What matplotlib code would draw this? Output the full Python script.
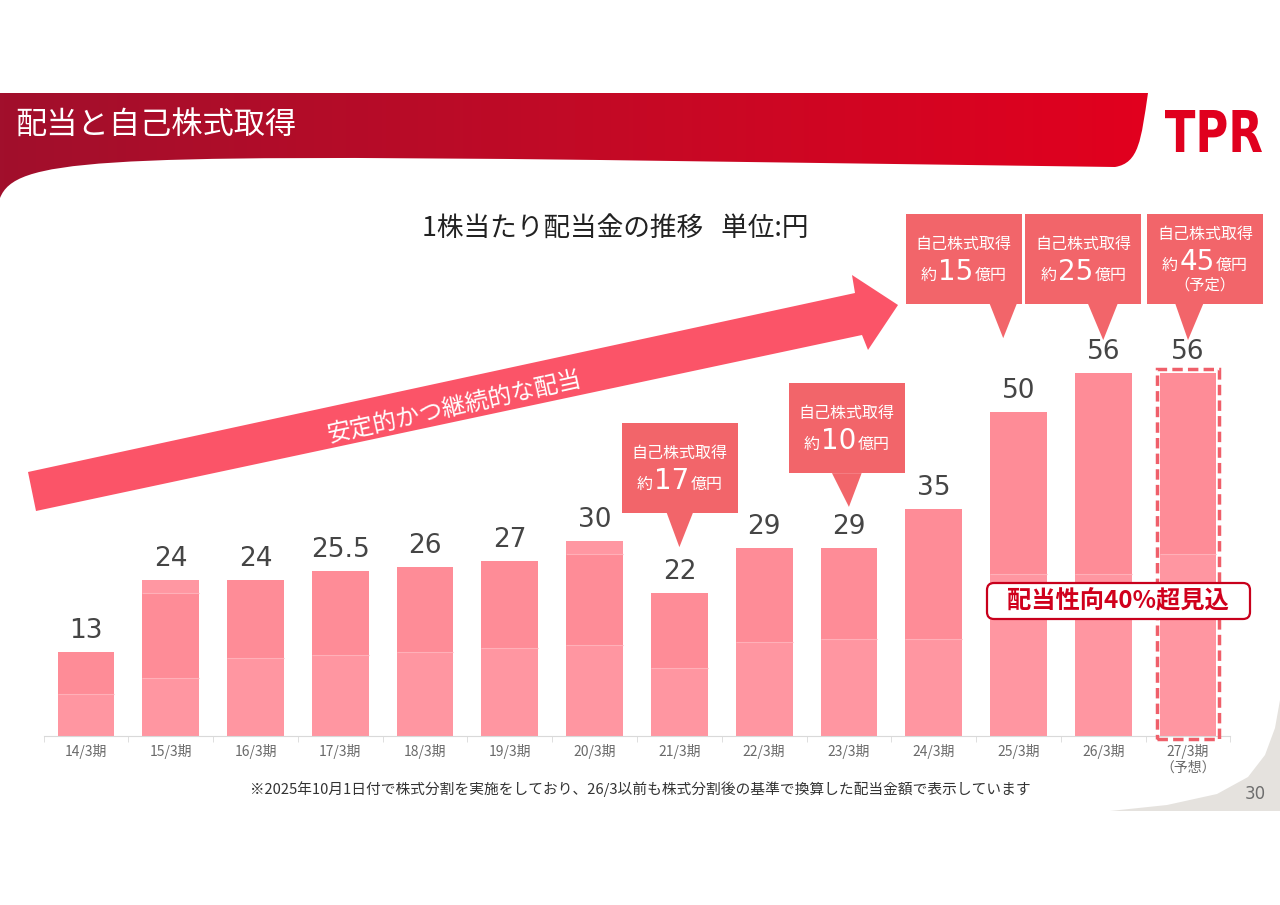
import numpy as np
import matplotlib
matplotlib.use("Agg")
import matplotlib.pyplot as plt
from matplotlib.path import Path
from matplotlib.patches import PathPatch, Polygon, Rectangle, FancyBboxPatch
from matplotlib.colors import LinearSegmentedColormap
from matplotlib.offsetbox import TextArea, HPacker, AnnotationBbox
from matplotlib.textpath import TextPath
from matplotlib.font_manager import FontProperties
from matplotlib.transforms import Affine2D

FONT = ['Noto Sans CJK JP', 'DejaVu Sans']
NUM_FONT = ['DejaVu Sans']
plt.rcParams['font.family'] = FONT

# dividend per share (yen), stacked: interim / year-end / commemorative
periods = ['14/3期', '15/3期', '16/3期', '17/3期', '18/3期', '19/3期', '20/3期',
           '21/3期', '22/3期', '23/3期', '24/3期', '25/3期', '26/3期', '27/3期\n（予想）']
interim = [6.5, 9, 12, 12.5, 13, 13.5, 14, 10.5, 14.5, 15, 15, 25, 25, 28]
year_end = [6.5, 13, 12, 13, 13, 13.5, 14, 11.5, 14.5, 14, 20, 25, 31, 28]
special = [0, 2, 0, 0, 0, 0, 2, 0, 0, 0, 0, 0, 0, 0]

# share buybacks (100M yen) by period index
buyback_idx = [7, 9, 11, 12, 13]
buyback_amt = ['17', '10', '15', '25', '45']

fig = plt.figure(figsize=(12.8, 9.05), dpi=100)

# ---- slide decoration layer (pixel coords) ----
ov = fig.add_axes([0, 0, 1, 1], zorder=0)
ov.axis('off')

# red header banner
verts = [(0, 93), (1148, 93),
         (1141, 140), (1139, 163), (1115, 167),
         (600, 160),
         (90, 154), (15, 160), (0, 198),
         (0, 93)]
codes = [Path.MOVETO, Path.LINETO,
         Path.CURVE4, Path.CURVE4, Path.CURVE4,
         Path.LINETO,
         Path.CURVE4, Path.CURVE4, Path.CURVE4,
         Path.CLOSEPOLY]
banner = PathPatch(Path(verts, codes), facecolor='none', edgecolor='none')
ov.add_patch(banner)
cmap = LinearSegmentedColormap.from_list('hdr', ['#A10F2C', '#C20A26', '#E2001E'])
im = ov.imshow(np.linspace(0, 1, 256).reshape(1, -1), cmap=cmap, aspect='auto',
               extent=(0, 1150, 200, 90))
im.set_clip_path(banner)
ov.set_xlim(0, 1280)
ov.set_ylim(905, 0)
ov.text(15, 125, '配当と自己株式取得', color='white', fontsize=22.5, va='center', ha='left')

# TPR logo, squeezed into its box
tp = TextPath((0, 0), 'TPR', size=1, prop=FontProperties(family='DejaVu Sans', weight='bold'))
ext = tp.get_extents()
tr = (Affine2D().translate(-ext.x0, -ext.y0)
      .scale(97 / ext.width, -42 / ext.height).translate(1165, 152))
ov.add_patch(PathPatch(tr.transform_path(tp), facecolor='#E0001E', edgecolor='none'))

# chart title
ov.text(422, 228, '1株当たり配当金の推移   単位:円', fontsize=19.2, color='#222222',
        va='center', ha='left')

# big arrow
arrow = Polygon([(28, 472), (855, 293), (852, 275), (898, 305),
                 (868, 350), (862, 335), (36, 511)],
                closed=True, facecolor='#FB5468', edgecolor='none')
ov.add_patch(arrow)
ov.text(455, 407, '安定的かつ継続的な配当', color='white', fontsize=17,
        rotation=12.5, rotation_mode='anchor', ha='center', va='center')

# page curl bottom right
curl = Polygon([(1280, 700), (1275, 728), (1265, 755), (1248, 777), (1217, 794),
                (1167, 805), (1110, 811), (1280, 811)],
               closed=True, facecolor='#E5E2DE', edgecolor='none')
ov.add_patch(curl)
ov.text(1255, 794, '30', fontsize=12, color='#6E6E6E', ha='center', va='center',
        family=NUM_FONT)

# footnote
ov.text(250, 789, '※2025年10月1日付で株式分割を実施をしており、26/3以前も株式分割後の基準で換算した配当金額で表示しています',
        fontsize=10.6, color='#333333', ha='left', va='center')

# ---- bar chart ----
ax = fig.add_axes([43.6 / 1280, 169 / 905, 1186.8 / 1280, 389.4 / 905], zorder=1)
ax.set_facecolor('none')
x = np.arange(len(periods))
w = 0.67
interim = np.array(interim)
year_end = np.array(year_end)
special = np.array(special)
total = interim + year_end + special

ax.bar(x, interim, w, color='#FF96A1', edgecolor='none')
ax.bar(x, year_end, w, bottom=interim, color='#FE8C97', edgecolor='none')
ax.bar(x, special, w, bottom=interim + year_end, color='#FF97A2', edgecolor='none')
ax.hlines(interim, x - w / 2, x + w / 2, color='#FFB0B8', lw=0.8)
has_sp = special > 0
ax.hlines((interim + year_end)[has_sp], x[has_sp] - w / 2, x[has_sp] + w / 2,
          color='#FFB0B8', lw=0.8)

for xi, t in zip(x, total):
    ax.annotate(f'{t:g}', (xi, t), xytext=(0, 15), textcoords='offset points',
                ha='center', va='center', fontsize=19, color='#454545', family=NUM_FONT)

# forecast bar dashed frame
ax.add_patch(Rectangle((x[-1] - 0.36, -0.45), 0.72, total[-1] + 1.0, fill=False,
                       edgecolor='#EF5F6A', lw=2.5, linestyle=(0, (3, 1.5)),
                       clip_on=False, zorder=3))

ax.set_xlim(-0.5, len(periods) - 0.5)
ax.set_ylim(0, 60)
ax.set_xticks(x)
ax.set_xticklabels(periods, fontsize=10, color='#6A6A6A', linespacing=1.1)
ax.set_xticks(np.arange(-0.5, len(periods)), minor=True)
ax.tick_params(axis='x', which='major', length=0, pad=6)
ax.tick_params(axis='x', which='minor', length=4, color='#D9D9D9')
ax.set_yticks([])
for s in ['top', 'left', 'right']:
    ax.spines[s].set_visible(False)
ax.spines['bottom'].set_color('#D9D9D9')

# payout ratio note, on top of the bars (pixel coords)
ax.add_patch(FancyBboxPatch((987, 583), 263, 36, boxstyle='round,pad=0,rounding_size=7',
                            facecolor='white', edgecolor='#C8001C', lw=1.6, zorder=4,
                            transform=ov.transData, clip_on=False))
ax.text(1118, 601, '配当性向40%超見込', fontsize=17.5, fontweight='bold',
        color='#D0001C', ha='center', va='center', zorder=5, transform=ov.transData)

# buyback callouts (data coords: box x0, x1, y0, y1, pointer x0, x1, tip x, tip y)
boxes = [(6.32, 7.69, 34.4, 48.2, 6.85, 7.16, 7.0, 29.1),
         (8.29, 9.66, 40.5, 54.4, 8.80, 9.15, 9.0, 35.3),
         (9.67, 11.04, 66.6, 80.4, 10.66, 10.98, 10.82, 61.3),
         (11.08, 12.45, 66.6, 80.4, 11.82, 12.17, 12.0, 61.0),
         (12.52, 13.88, 66.6, 80.4, 12.85, 13.18, 13.0, 61.0)]
cc = '#F2656A'
for i, (idx, amt) in enumerate(zip(buyback_idx, buyback_amt)):
    bx0, bx1, by0, by1, px0, px1, tx, ty = boxes[i]
    ax.add_patch(Rectangle((bx0, by0), bx1 - bx0, by1 - by0, facecolor=cc,
                           edgecolor='none', clip_on=False, zorder=4))
    ax.add_patch(Polygon([(px0, by0), (px1, by0), (tx, ty)], closed=True,
                         facecolor=cc, edgecolor='none', clip_on=False, zorder=4))
    xc = (bx0 + bx1) / 2
    planned = idx == len(periods) - 1
    l1 = by1 - (3.2 if planned else 4.7)
    l2 = by1 - (7.4 if planned else 8.9)
    ax.text(xc, l1, '自己株式取得', color='white', fontsize=11.5, ha='center',
            va='center', zorder=5)
    tp = dict(color='white', family=FONT)
    line = HPacker(children=[TextArea('約', textprops=dict(tp, fontsize=11.5)),
                             TextArea(amt, textprops=dict(color='white', family=NUM_FONT,
                                                          fontsize=20)),
                             TextArea('億円', textprops=dict(tp, fontsize=11.5))],
                   align='baseline', pad=0, sep=1)
    ab = AnnotationBbox(line, (xc, l2), frameon=False, box_alignment=(0.5, 0.5),
                        annotation_clip=False, zorder=5)
    ax.add_artist(ab)
    if planned:
        ax.text(xc, by1 - 10.9, '（予定）', color='white', fontsize=11,
                ha='center', va='center', zorder=5)

fig.savefig('out.png', dpi=100)
